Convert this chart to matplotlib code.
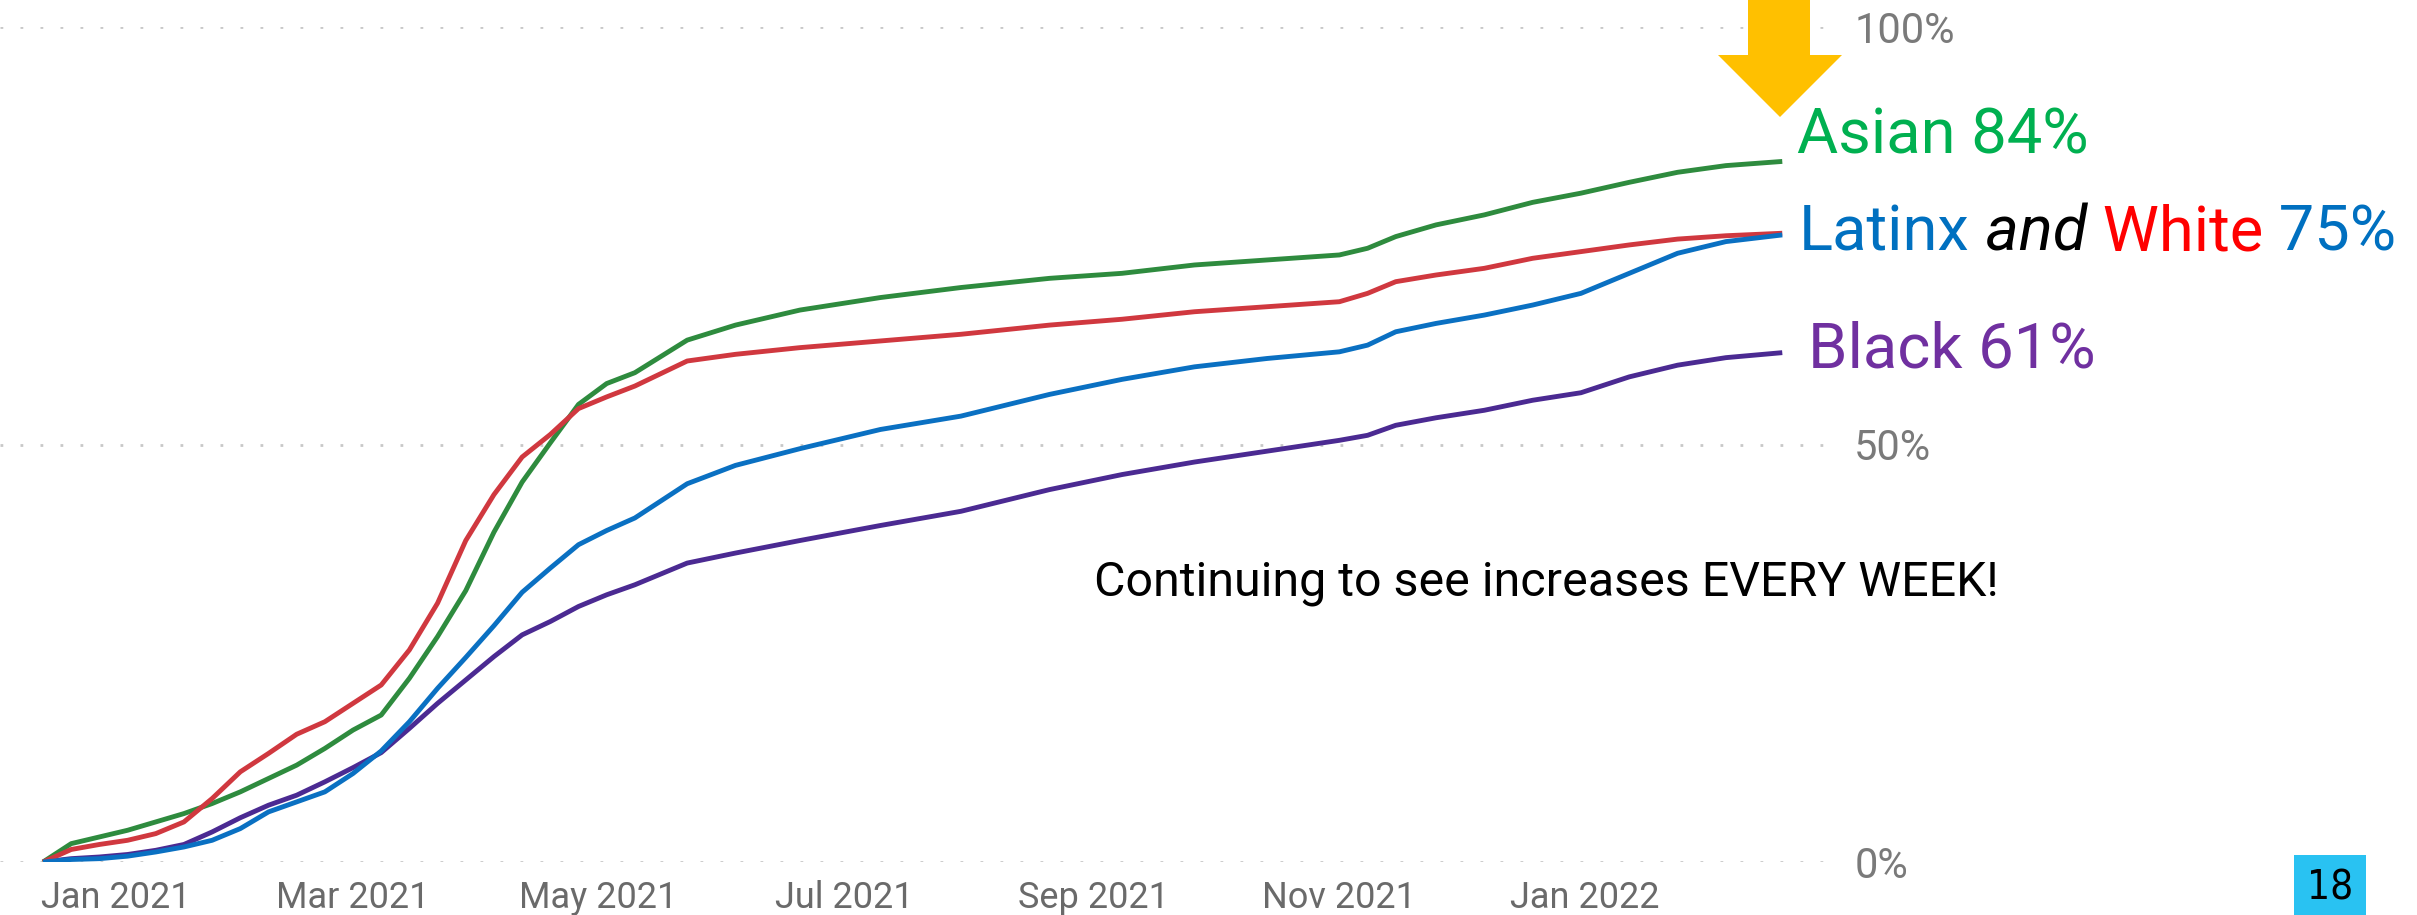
import matplotlib
matplotlib.use("Agg")
import matplotlib.pyplot as plt
from matplotlib.patches import Polygon, Rectangle
from matplotlib import font_manager
import datetime as dt

# ---------------- data ----------------
dates = ["2020-12-14", "2020-12-21", "2020-12-28", "2021-01-04", "2021-01-11", "2021-01-18",
         "2021-01-25", "2021-02-01", "2021-02-08", "2021-02-15", "2021-02-22", "2021-03-01",
         "2021-03-08", "2021-03-15", "2021-03-22", "2021-03-29", "2021-04-05", "2021-04-12",
         "2021-04-19", "2021-04-26", "2021-05-03", "2021-05-10", "2021-05-23", "2021-06-04",
         "2021-06-20", "2021-07-10", "2021-07-30", "2021-08-21", "2021-09-08", "2021-09-26",
         "2021-10-14", "2021-11-01", "2021-11-08", "2021-11-15", "2021-11-25", "2021-12-07",
         "2021-12-19", "2021-12-31", "2022-01-12", "2022-01-24", "2022-02-05", "2022-02-19"]

asian = [0.0, 2.2, 3.0, 3.8, 4.8, 5.8, 7.0, 8.4, 10.0, 11.6, 13.6, 15.8, 17.6, 22.0, 27.0,
         32.5, 39.5, 45.5, 50.2, 54.8, 57.3, 58.6, 62.5, 64.3, 66.1, 67.6, 68.8, 69.9, 70.5,
         71.5, 72.1, 72.7, 73.5, 74.9, 76.3, 77.5, 79.0, 80.1, 81.4, 82.6, 83.4, 83.9]
white = [0.0, 1.5, 2.1, 2.6, 3.4, 4.8, 7.6, 10.8, 13.0, 15.3, 16.8, 19.0, 21.2, 25.4, 31.0,
         38.5, 44.0, 48.5, 51.2, 54.3, 55.7, 57.0, 60.0, 60.8, 61.6, 62.4, 63.2, 64.3, 65.0,
         65.9, 66.5, 67.1, 68.1, 69.5, 70.3, 71.1, 72.3, 73.1, 73.9, 74.6, 75.0, 75.3]
latinx = [0.0, 0.3, 0.4, 0.7, 1.2, 1.8, 2.6, 4.0, 6.0, 7.2, 8.4, 10.6, 13.3, 16.8, 20.8,
          24.5, 28.3, 32.3, 35.2, 38.0, 39.7, 41.2, 45.3, 47.5, 49.5, 51.8, 53.4, 56.0, 57.8,
          59.3, 60.3, 61.1, 61.9, 63.5, 64.5, 65.5, 66.7, 68.1, 70.5, 72.9, 74.3, 75.1]
black = [0.0, 0.4, 0.6, 0.9, 1.4, 2.1, 3.6, 5.3, 6.8, 8.0, 9.6, 11.3, 13.1, 16.0, 19.0,
         21.8, 24.6, 27.2, 28.8, 30.6, 32.0, 33.2, 35.8, 37.0, 38.5, 40.3, 42.0, 44.6, 46.4,
         47.9, 49.2, 50.5, 51.1, 52.3, 53.2, 54.1, 55.3, 56.2, 58.1, 59.5, 60.4, 61.0]

tick_dates = ["2021-01-01", "2021-03-01", "2021-05-01", "2021-07-01", "2021-09-01",
              "2021-11-01", "2022-01-01"]
tick_labels = ["Jan 2021", "Mar 2021", "May 2021", "Jul 2021", "Sep 2021", "Nov 2021", "Jan 2022"]
y_ticks = [0, 50, 100]
y_tick_labels = ["0%", "50%", "100%"]

# ---------------- figure ----------------
W, H = 2417, 915
DPI = 100
fig = plt.figure(figsize=(W / DPI, H / DPI), dpi=DPI)
fig.patch.set_facecolor("white")

def fx(px):
    return px / W

def fy(py):
    return 1 - py / H

ax_left, ax_right = 0, 1825
ax_top, ax_bottom = 27, 862
ax = fig.add_axes([fx(ax_left), fy(ax_bottom), fx(ax_right - ax_left), (ax_bottom - ax_top) / H])
ax.set_facecolor("none")

x = [dt.datetime.strptime(d, "%Y-%m-%d") for d in dates]
jan1 = dt.datetime(2021, 1, 1)
px_per_day = 4.026
jan1_px = 115.5
ax.set_xlim(jan1 + dt.timedelta(days=(ax_left - jan1_px) / px_per_day),
            jan1 + dt.timedelta(days=(ax_right - jan1_px) / px_per_day))
ax.set_ylim(0, 100)

for s in ax.spines.values():
    s.set_visible(False)

# dotted gridlines
for yv in y_ticks:
    ax.axhline(yv, color="#c8c8c8", linewidth=2.0, linestyle=(0, (1.0, 6.2)),
               zorder=1, dash_capstyle="butt")

lw = 3.5
ax.plot(x, asian, color="#2E8B3E", lw=lw, zorder=3, solid_capstyle="butt")
ax.plot(x, black, color="#4B2A92", lw=lw, zorder=3, solid_capstyle="butt")
ax.plot(x, white, color="#D0383F", lw=lw, zorder=4, solid_capstyle="butt")
ax.plot(x, latinx, color="#0A70C2", lw=lw, zorder=5, solid_capstyle="butt")

ax.set_xticks([dt.datetime.strptime(d, "%Y-%m-%d") for d in tick_dates])
ax.set_xticklabels(tick_labels, fontfamily="Roboto", fontsize=26, color="#6a6a6a")
ax.tick_params(axis="x", length=0, pad=13)

ax.yaxis.set_ticks_position("right")
ax.set_yticks(y_ticks)
ax.set_yticklabels(y_tick_labels, fontfamily="Roboto", fontsize=30, color="#7a7a7a")
ax.tick_params(axis="y", length=0, pad=21)

# annotation text
fig.text(fx(1094), fy(595), "Continuing to see increases EVERY WEEK!", fontfamily="Roboto",
         fontsize=34.8, color="black", ha="left", va="baseline")

# series labels
fs = 45.5
fig.text(fx(1797), fy(153), "Asian 84%", fontfamily="Roboto", fontsize=fs,
         color="#00B050", ha="left", va="baseline")
t1 = fig.text(fx(1799), fy(250), "Latinx", fontfamily="Roboto", fontsize=fs,
              color="#0070C0", ha="left", va="baseline")
t2 = ax.annotate(" and", xy=(1, 0), xycoords=t1, fontfamily="Roboto", fontstyle="italic",
                 fontsize=fs, color="black", ha="left", va="bottom", annotation_clip=False)
t3 = ax.annotate(" White", xy=(1, 0), xycoords=t2, fontfamily="Roboto", fontsize=fs,
                 color="#FF0000", ha="left", va="bottom", annotation_clip=False)
t4 = ax.annotate(" 75%", xy=(1, 0), xycoords=t3, fontfamily="Roboto", fontsize=fs,
                 color="#0070C0", ha="left", va="bottom", annotation_clip=False)
fig.text(fx(1808), fy(368), "Black 61%", fontfamily="Roboto", fontsize=fs,
         color="#7030A0", ha="left", va="baseline")

# down arrow
arrow_px = [(1748, -5), (1810, -5), (1810, 55), (1842, 55), (1780, 117), (1718, 55), (1748, 55)]
fig.patches.append(Polygon([(fx(a), fy(b)) for a, b in arrow_px], closed=True,
                           transform=fig.transFigure, facecolor="#FFC000",
                           edgecolor="none", zorder=10))

# page number box
fig.patches.append(Rectangle((fx(2294), fy(918)), fx(2366 - 2294), (918 - 855) / H,
                             transform=fig.transFigure, facecolor="#29C2F2",
                             edgecolor="none", zorder=10))
available = {f.name for f in font_manager.fontManager.ttflist}
num_family = "Liberation Sans Narrow" if "Liberation Sans Narrow" in available else "DejaVu Sans"
fig.text(fx(2330), fy(888), "18", fontfamily=num_family, fontstretch="condensed",
         fontsize=29, color="black", ha="center", va="center", zorder=11)

fig.savefig("out.png", dpi=DPI, facecolor="white")
